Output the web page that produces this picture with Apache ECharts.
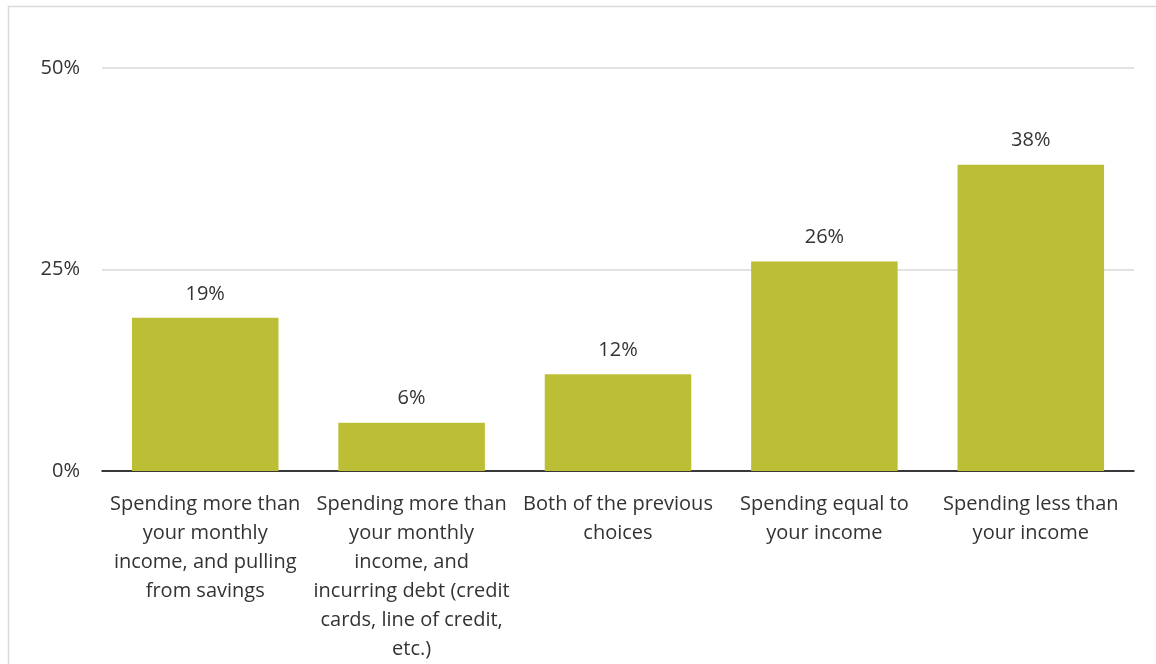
<!DOCTYPE html>
<html>
<head>
<meta charset="utf-8">
<script src="https://cdn.jsdelivr.net/npm/echarts@6/dist/echarts.min.js"></script>
<style>
  html, body { margin: 0; padding: 0; background: #fff; }
  #chart { width: 1156px; height: 664px; }
</style>
</head>
<body>
<div id="chart"></div>
<script>
// Survey responses: how spending compares with income
const categories = [
  'Spending more than\nyour monthly\nincome, and pulling\nfrom savings',
  'Spending more than\nyour monthly\nincome, and\nincurring debt (credit\ncards, line of credit,\netc.)',
  'Both of the previous\nchoices',
  'Spending equal to\nyour income',
  'Spending less than\nyour income'
];
const shares = [19, 6, 12, 26, 38];
const yTicks = [0, 25, 50];

const textColor = '#333333';
const font = '"Open Sans", "Noto Sans", sans-serif';

const chart = echarts.init(document.getElementById('chart'), null, { renderer: 'canvas' });
chart.setOption({
  animation: false,
  backgroundColor: '#ffffff',
  graphic: [{
    type: 'rect',
    shape: { x: 8.5, y: 6.5, width: 1160, height: 670 },
    style: { fill: 'none', stroke: '#d9d9d9', lineWidth: 1.5 },
    silent: true
  }],
  grid: { left: 102, right: 22, top: 68, bottom: 192, containLabel: false },
  xAxis: {
    type: 'category',
    data: categories,
    axisLine: { lineStyle: { color: '#000000', width: 1.5 } },
    axisTick: { show: false },
    axisLabel: {
      interval: 0,
      margin: 19,
      color: textColor,
      fontFamily: font,
      fontWeight: 400,
      fontSize: 20,
      lineHeight: 29,
      align: 'center'
    }
  },
  yAxis: {
    type: 'value',
    min: yTicks[0],
    max: yTicks[yTicks.length - 1],
    interval: 25,
    axisLine: { show: false },
    axisTick: { show: false },
    splitLine: { lineStyle: { color: '#d9d9d9', width: 1.5 } },
    axisLabel: {
      margin: 22,
      color: textColor,
      fontFamily: font,
      fontWeight: 400,
      fontSize: 20,
      formatter: v => v + '%'
    }
  },
  series: [{
    type: 'bar',
    data: shares,
    barWidth: '71%',
    itemStyle: { color: '#bcbf35' },
    label: {
      show: true,
      position: 'top',
      distance: 14,
      color: textColor,
      fontFamily: font,
      fontWeight: 400,
      fontSize: 20,
      formatter: p => p.value + '%'
    }
  }]
});
</script>
</body>
</html>
